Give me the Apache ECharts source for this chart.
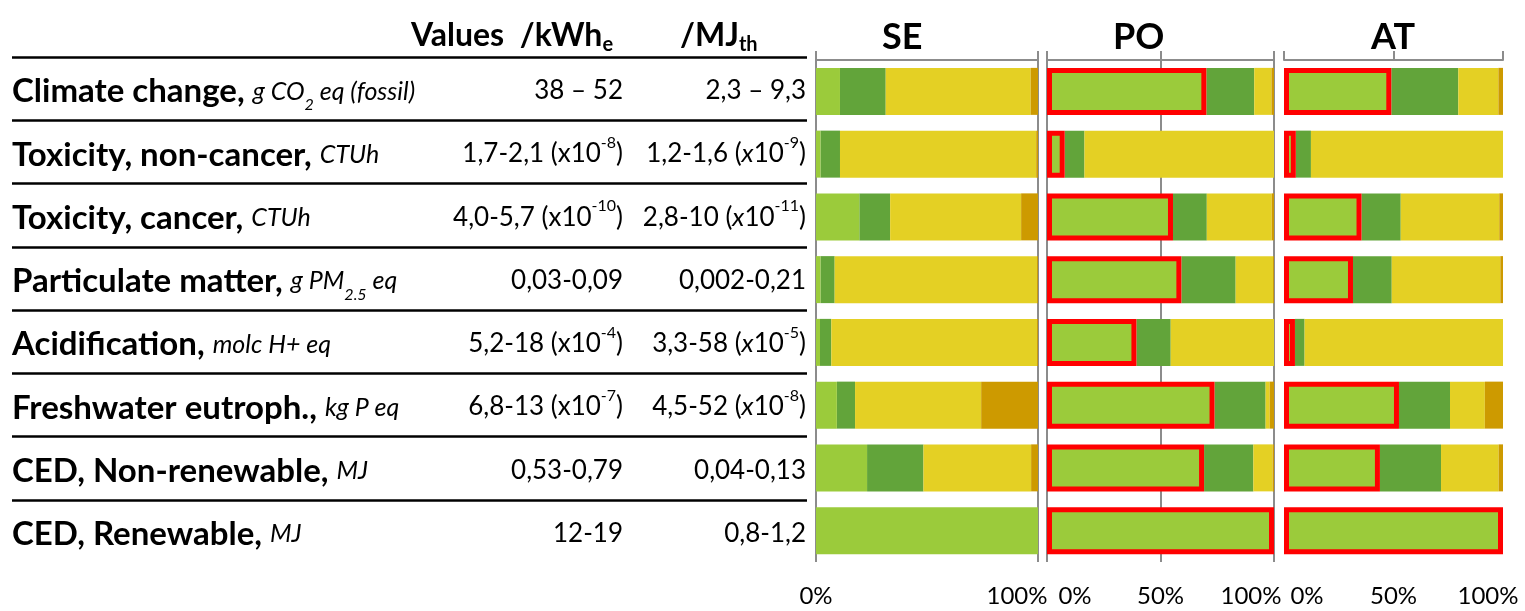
<!DOCTYPE html>
<html><head><meta charset="utf-8">
<script src="https://cdn.jsdelivr.net/npm/echarts@6/dist/echarts.min.js"></script>
<style>html,body{margin:0;padding:0;background:#fff}#c{width:1525px;height:611px}</style>
</head><body><div id="c"></div>
<script>
// ---------- data ----------
const categories = ['Climate change','Toxicity, non-cancer','Toxicity, cancer','Particulate matter','Acidification','Freshwater eutroph.','CED, Non-renewable','CED, Renewable'];
const units = ['g CO{2} eq (fossil)','CTUh','CTUh','g PM{2.5} eq','molc H+ eq','kg P eq','MJ','MJ'];
const kwhRange = ['38 \u2013 52','1,7-2,1','4,0-5,7','0,03-0,09','5,2-18','6,8-13','0,53-0,79','12-19'];
const kwhExp   = [null,'-8','-10',null,'-4','-7',null,null];
const mjRange  = ['2,3 \u2013 9,3','1,2-1,6','2,8-10','0,002-0,21','3,3-58','4,5-52','0,04-0,13','0,8-1,2'];
const mjExp    = [null,'-9','-11',null,'-5','-8',null,null];
const countries = ['SE','PO','AT'];
const stages = ['Stage 1','Stage 2','Stage 3','Stage 4'];
const se1 = [10.8, 2.0, 19.5, 2.0, 1.8, 9.4, 23.0, 100];
const se2 = [20.6, 8.8, 13.9, 6.4, 5.1, 8.2, 25.4, 0];
const se3 = [65.3, 88.4, 59.0, 91.2, 92.7, 56.8, 48.5, 0];
const se4 = [3.3, 0.8, 7.6, 0.4, 0.4, 25.6, 3.1, 0];
const po1 = [70.2, 7.8, 55.5, 59.2, 39.4, 73.8, 69.2, 100];
const po2 = [21.1, 8.7, 14.9, 23.9, 15.1, 22.5, 21.7, 0];
const po3 = [7.6, 83.5, 28.6, 16.5, 45.5, 1.8, 8.5, 0];
const po4 = [1.1, 0, 1.0, 0.4, 0, 1.9, 0.6, 0];
const at1 = [49.0, 5.4, 35.4, 31.5, 5.0, 52.5, 43.8, 100];
const at2 = [30.6, 6.9, 17.9, 17.7, 4.4, 23.3, 27.9, 0];
const at3 = [18.3, 87.7, 45.0, 49.6, 90.6, 15.9, 26.3, 0];
const at4 = [2.1, 0, 1.7, 1.2, 0, 8.3, 2.0, 0];
const tickStep = [100, 50, 50];

// ---------- styles ----------
const FONT = 'Lato';
const colors = ['#9BCB3B', '#62A43A', '#E4D024', '#CD9A00'];
const gray = '#8c8c8c';
const countryData = [[se1, se2, se3, se4], [po1, po2, po3, po4], [at1, at2, at3, at4]];
const grids = [
  {left: 12, top: 57, width: 795, height: 506},
  {left: 816, top: 60, width: 222, height: 502},
  {left: 1047, top: 60, width: 227, height: 502},
  {left: 1284, top: 60, width: 219, height: 502}
];
const labelShift = [{0: 0, 100: -21}, {0: 28, 50: 0, 100: -23}, {0: 23, 50: 0, 100: -15}];
const titleLeft = [877, 1108, 1366];

function unitRich(u) {
  return '{u|' + u.replace(/\{([^}]*)\}/g, '}{sub|$1}{u|') + '}';
}
function valRich(range, exp, italicX) {
  if (!exp) return '{v|' + range + '}';
  if (italicX) return '{v|' + range + ' (}{vi|x}{v|10}{sup|' + exp + '}{v|)}';
  return '{v|' + range + ' (x10}{sup|' + exp + '}{v|)}';
}

const xAxis = [{gridIndex: 0, type: 'value', show: false}];
const yAxis = [];
const valStyles = {
  v: {fontFamily: FONT, fontSize: 26, lineHeight: 38, color: '#000'},
  vi: {fontFamily: FONT, fontSize: 26, fontStyle: 'italic', lineHeight: 38, color: '#000'},
  sup: {fontFamily: FONT, fontSize: 16, lineHeight: 26, verticalAlign: 'top', color: '#000'}
};
yAxis.push({
  gridIndex: 0, type: 'category', inverse: true, data: categories, position: 'left',
  axisLine: {show: false}, axisTick: {show: false},
  splitLine: {show: true, showMaxLine: false, lineStyle: {color: '#000', width: 2.5}},
  axisLabel: {
    inside: true, margin: 0, align: 'left', interval: 0, padding: [6, 0, 0, 0],
    formatter: (v, i) => '{n|' + categories[i] + ', }' + unitRich(units[i]),
    rich: {
      n: {fontFamily: FONT, fontWeight: 'bold', fontSize: 33, lineHeight: 42, color: '#000'},
      u: {fontFamily: FONT, fontStyle: 'italic', fontSize: 25, lineHeight: 42, color: '#000'},
      sub: {fontFamily: FONT, fontStyle: 'italic', fontSize: 16, lineHeight: 28, verticalAlign: 'bottom', color: '#000'}
    }
  }
});
yAxis.push({
  gridIndex: 0, type: 'category', inverse: true, data: categories, position: 'right',
  axisLine: {show: false}, axisTick: {show: false}, splitLine: {show: false},
  axisLabel: {inside: true, margin: 184, align: 'right', interval: 0, padding: [4, 0, 0, 0],
    formatter: (v, i) => valRich(kwhRange[i], kwhExp[i], false), rich: valStyles}
});
yAxis.push({
  gridIndex: 0, type: 'category', inverse: true, data: categories, position: 'right',
  axisLine: {show: false}, axisTick: {show: false}, splitLine: {show: false},
  axisLabel: {inside: true, margin: 1, align: 'right', interval: 0, padding: [4, 0, 0, 0],
    formatter: (v, i) => valRich(mjRange[i], mjExp[i], true), rich: valStyles}
});

const series = [];
countries.forEach((c, k) => {
  const g = k + 1;
  xAxis.push({
    gridIndex: g, type: 'value', min: 0, max: 100, interval: tickStep[k], position: 'top',
    axisLine: {show: true, lineStyle: {color: gray, width: 2}},
    axisTick: {show: true, length: 9, lineStyle: {color: gray, width: 2}},
    axisLabel: {show: false},
    splitLine: {show: k !== 2, lineStyle: {color: gray, width: 2}}
  });
  yAxis.push({gridIndex: g, type: 'category', inverse: true, data: categories, show: false});
});
countries.forEach((c, k) => {
  const g = k + 1;
  const rich = {};
  Object.keys(labelShift[k]).forEach(key => {
    const d = labelShift[k][key];
    rich['s' + key] = {fontFamily: FONT, fontSize: 24, color: '#000',
      padding: d >= 0 ? [0, 0, 0, 2 * d] : [0, -2 * d, 0, 0]};
  });
  xAxis.push({
    gridIndex: g, type: 'value', min: 0, max: 100, interval: tickStep[k], position: 'bottom',
    axisLine: {show: false}, axisTick: {show: false}, splitLine: {show: false},
    axisLabel: {show: true, margin: 22, formatter: v => '{s' + v + '|' + v + '%}', rich: rich}
  });
});
countries.forEach((c, k) => {
  const g = k + 1;
  stages.forEach((s, j) => {
    const item = {color: colors[j]};
    if (j === 0 && k > 0) { item.borderColor = '#ff0000'; item.borderWidth = 5; }
    series.push({
      name: c + ' ' + s, type: 'bar', stack: c, xAxisIndex: g, yAxisIndex: g + 2,
      barWidth: 47, data: countryData[k][j], itemStyle: item, z: j === 0 ? 3 : 2,
      silent: true, animation: false
    });
  });
});

const title = [
  {text: '{b|Values  /kWh}{s|e}', left: 406, top: 12},
  {text: '{b|/MJ}{s|th}', left: 675, top: 12}
].map(t => Object.assign(t, {textStyle: {rich: {
  b: {fontFamily: FONT, fontWeight: 'bold', fontSize: 32, lineHeight: 38, color: '#000'},
  s: {fontFamily: FONT, fontWeight: 'bold', fontSize: 20, lineHeight: 23, verticalAlign: 'bottom', color: '#000'}
}}}));
countries.forEach((c, k) => title.push({
  text: c, left: titleLeft[k], top: 12,
  textStyle: {fontFamily: FONT, fontWeight: 'bold', fontSize: 36, lineHeight: 40, color: '#000'}
}));

const chart = echarts.init(document.getElementById('c'), null, {renderer: 'canvas'});
chart.setOption({animation: false, title, grid: grids, xAxis, yAxis, series});
</script></body></html>
